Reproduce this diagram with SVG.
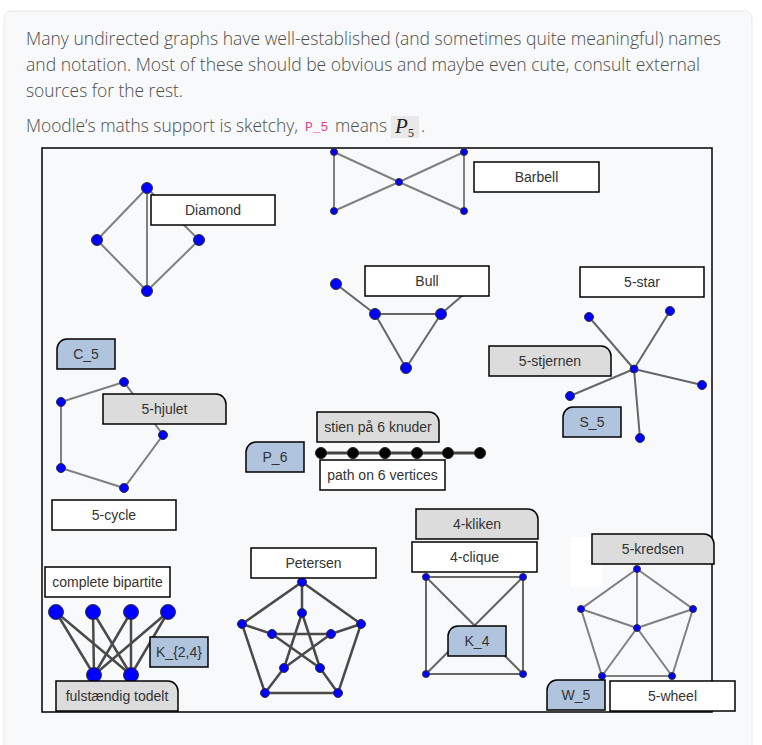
<svg xmlns="http://www.w3.org/2000/svg" width="762" height="745" viewBox="0 0 762 745">
<style>
.intro{font-family:"Open Sans","Noto Sans",sans-serif;font-size:18px;font-weight:300;fill:#4d4d4d}
.code{font-family:"Liberation Mono","DejaVu Sans Mono",monospace;font-size:13px;fill:#e83e8c}
.lbl{font-family:"Liberation Sans",Arial,sans-serif;font-size:14px;fill:#333;text-anchor:middle}
.wb{fill:#fff;stroke:#000;stroke-width:1.5}
.gb{fill:#dcdcdc;stroke:#000;stroke-width:1.5}
.bb{fill:#b0c4de;stroke:#000;stroke-width:1.5}
.v{fill:#0000ff;stroke:#333;stroke-width:1}
.vk{fill:#000;stroke:#222;stroke-width:1}
.el{stroke:#808080;stroke-width:2;fill:none}
.em{stroke:#666;stroke-width:2;fill:none}
.ed{stroke:#4a4a4a;stroke-width:2.5;fill:none}
.ep{stroke:#444;stroke-width:3;fill:none}
</style>
<rect x="0" y="0" width="762" height="745" fill="#fff"/>
<rect x="4" y="11" width="748" height="760" rx="7" fill="#f8f9fa" stroke="#e6e8ea" stroke-width="1"/>
<text class="intro" x="26" y="45" textLength="695" lengthAdjust="spacingAndGlyphs">Many undirected graphs have well-established (and sometimes quite meaningful) names</text>
<text class="intro" x="26" y="71" textLength="674" lengthAdjust="spacingAndGlyphs">and notation. Most of these should be obvious and maybe even cute, consult external</text>
<text class="intro" x="26" y="97" textLength="157" lengthAdjust="spacingAndGlyphs">sources for the rest.</text>
<text class="intro" x="26" y="132" textLength="272" lengthAdjust="spacingAndGlyphs">Moodle’s maths support is sketchy,</text>
<text class="code" x="305" y="131">P_5</text>
<text class="intro" x="335" y="132" textLength="52" lengthAdjust="spacingAndGlyphs">means</text>
<rect x="391" y="116" width="28" height="22" fill="#e9e9e9"/>
<text x="395" y="133" font-family="Liberation Serif,serif" font-style="italic" font-size="21" fill="#222">P</text>
<text x="408" y="137" font-family="Liberation Serif,serif" font-size="12" fill="#222">5</text>
<text class="intro" x="421" y="132">.</text>

<rect id="frame" x="42" y="148" width="670" height="564" fill="#f8f9fa" stroke="#000" stroke-width="1.5"/>
<rect id="patch" x="570" y="537" width="33" height="50" fill="#fff"/>

<g id="connectors">
<g class="el">
<line x1="147" y1="188" x2="97" y2="240"/><line x1="97" y1="240" x2="147" y2="291"/>
<line x1="147" y1="188" x2="147" y2="291"/><line x1="147" y1="291" x2="199" y2="240"/>
<line x1="199" y1="240" x2="147" y2="188"/>
</g>
<g class="el">
<line x1="334" y1="152" x2="334" y2="211"/><line x1="334" y1="152" x2="399" y2="182"/>
<line x1="334" y1="211" x2="399" y2="182"/><line x1="399" y1="182" x2="464" y2="152"/>
<line x1="399" y1="182" x2="464" y2="211"/><line x1="464" y1="152" x2="464" y2="211"/>
</g>
<g class="em">
<line x1="336" y1="284" x2="375" y2="314"/><line x1="375" y1="314" x2="441" y2="314"/>
<line x1="375" y1="314" x2="406" y2="368"/><line x1="441" y1="314" x2="406" y2="368"/>
<line x1="441" y1="314" x2="478" y2="282"/>
</g>
<g class="em">
<line x1="634" y1="369" x2="589" y2="317"/><line x1="634" y1="369" x2="670" y2="311"/>
<line x1="634" y1="369" x2="702" y2="385"/><line x1="634" y1="369" x2="570" y2="396"/>
<line x1="634" y1="369" x2="640" y2="438"/>
</g>
<polygon class="el" points="124,382 61,402 61,468 124,488 163,435"/>
<line class="ep" x1="321" y1="453" x2="480" y2="453"/>
<g class="ed">
<line x1="56" y1="612" x2="94" y2="675"/><line x1="56" y1="612" x2="131" y2="675"/>
<line x1="93" y1="612" x2="94" y2="675"/><line x1="93" y1="612" x2="131" y2="675"/>
<line x1="131" y1="612" x2="94" y2="675"/><line x1="131" y1="612" x2="131" y2="675"/>
<line x1="168" y1="612" x2="94" y2="675"/><line x1="168" y1="612" x2="131" y2="675"/>
</g>
<g class="ed">
<polygon points="302,582 361,624 338,693 265,693 242,624"/>
<line x1="302" y1="582" x2="302" y2="613"/><line x1="242" y1="624" x2="272" y2="634"/>
<line x1="361" y1="624" x2="331" y2="634"/><line x1="265" y1="693" x2="284" y2="668"/>
<line x1="338" y1="693" x2="320" y2="668"/>
<line x1="302" y1="613" x2="284" y2="668"/><line x1="302" y1="613" x2="320" y2="668"/>
<line x1="272" y1="634" x2="331" y2="634"/><line x1="272" y1="634" x2="320" y2="668"/>
<line x1="331" y1="634" x2="284" y2="668"/>
</g>
<g class="em">
<rect x="426" y="577" width="97" height="97"/>
<line x1="426" y1="577" x2="523" y2="674"/><line x1="523" y1="577" x2="426" y2="674"/>
</g>
<g class="el">
<polygon points="637,569 693,609 672,676 602,676 581,609"/>
<line x1="637" y1="628" x2="637" y2="569"/><line x1="637" y1="628" x2="693" y2="609"/>
<line x1="637" y1="628" x2="672" y2="676"/><line x1="637" y1="628" x2="602" y2="676"/>
<line x1="637" y1="628" x2="581" y2="609"/>
</g>
</g>

<g id="diamond-vertices">
<circle class="v" cx="147" cy="188" r="5.5"/><circle class="v" cx="97" cy="240" r="5.5"/>
<circle class="v" cx="199" cy="240" r="5.5"/><circle class="v" cx="147" cy="291" r="5.5"/>
</g>
<g id="barbell-vertices">
<circle class="v" cx="334" cy="152" r="3.5"/><circle class="v" cx="334" cy="211" r="3.5"/>
<circle class="v" cx="399" cy="182" r="3.5"/><circle class="v" cx="464" cy="152" r="3.5"/>
<circle class="v" cx="464" cy="211" r="3.5"/>
</g>
<g id="bull-vertices">
<circle class="v" cx="336" cy="284" r="5.5"/><circle class="v" cx="375" cy="314" r="5.5"/>
<circle class="v" cx="441" cy="314" r="5.5"/><circle class="v" cx="406" cy="368" r="5.5"/>
</g>
<g id="star-vertices">
<circle class="v" cx="634" cy="369" r="4"/><circle class="v" cx="589" cy="317" r="4.5"/>
<circle class="v" cx="670" cy="311" r="4.5"/><circle class="v" cx="702" cy="385" r="4.5"/>
<circle class="v" cx="570" cy="396" r="4.5"/><circle class="v" cx="640" cy="438" r="4.5"/>
</g>
<g id="c5-vertices">
<circle class="v" cx="124" cy="382" r="4.5"/><circle class="v" cx="61" cy="402" r="4.5"/>
<circle class="v" cx="61" cy="468" r="4.5"/><circle class="v" cx="124" cy="488" r="4.5"/>
<circle class="v" cx="163" cy="435" r="4.5"/>
</g>
<g id="path-vertices">
<circle class="vk" cx="321" cy="453" r="5.5"/><circle class="vk" cx="353" cy="453" r="5.5"/>
<circle class="vk" cx="385" cy="453" r="5.5"/><circle class="vk" cx="417" cy="453" r="5.5"/>
<circle class="vk" cx="448" cy="453" r="5.5"/><circle class="vk" cx="480" cy="453" r="5.5"/>
</g>
<g id="bipartite-vertices">
<circle class="v" cx="56" cy="612" r="7.5"/><circle class="v" cx="93" cy="612" r="7.5"/>
<circle class="v" cx="131" cy="612" r="7.5"/><circle class="v" cx="168" cy="612" r="7.5"/>
<circle class="v" cx="94" cy="675" r="7.5"/><circle class="v" cx="131" cy="675" r="7.5"/>
</g>
<g id="petersen-vertices">
<circle class="v" cx="302" cy="582" r="4.5"/><circle class="v" cx="361" cy="624" r="4.5"/>
<circle class="v" cx="338" cy="693" r="4.5"/><circle class="v" cx="265" cy="693" r="4.5"/>
<circle class="v" cx="242" cy="624" r="4.5"/>
<circle class="v" cx="302" cy="613" r="4.5"/><circle class="v" cx="331" cy="634" r="4.5"/>
<circle class="v" cx="320" cy="668" r="4.5"/><circle class="v" cx="284" cy="668" r="4.5"/>
<circle class="v" cx="272" cy="634" r="4.5"/>
</g>
<g id="k4-vertices">
<circle class="v" cx="426" cy="577" r="3.5"/><circle class="v" cx="523" cy="577" r="3.5"/>
<circle class="v" cx="426" cy="674" r="3.5"/><circle class="v" cx="523" cy="674" r="3.5"/>
</g>
<g id="w5-vertices">
<circle class="v" cx="637" cy="569" r="3.5"/><circle class="v" cx="693" cy="609" r="3.5"/>
<circle class="v" cx="672" cy="676" r="3.5"/><circle class="v" cx="602" cy="676" r="3.5"/>
<circle class="v" cx="581" cy="609" r="3.5"/><circle class="v" cx="637" cy="628" r="3.5"/>
</g>

<g id="label-diamond"><rect class="wb" x="151" y="195" width="124" height="30"/><text class="lbl" x="213" y="215">Diamond</text></g>
<g id="label-barbell"><rect class="wb" x="474" y="162" width="125" height="30"/><text class="lbl" x="536.5" y="182">Barbell</text></g>
<g id="label-bull"><rect class="wb" x="365" y="266" width="124" height="30"/><text class="lbl" x="427" y="286">Bull</text></g>
<g id="label-5star"><rect class="wb" x="580" y="267" width="124" height="30"/><text class="lbl" x="642" y="287">5-star</text></g>
<g id="label-5stjernen"><path class="gb" d="M489,346 H601 A10,10 0 0 1 611,356 V376 H489 Z"/><text class="lbl" x="550" y="366">5-stjernen</text></g>
<g id="label-S5"><path class="bb" d="M573,407 H621 V437 H563 V417 A10,10 0 0 1 573,407 Z"/><text class="lbl" x="592" y="427">S_5</text></g>
<g id="label-C5"><path class="bb" d="M67,339 H115 V369 H57 V349 A10,10 0 0 1 67,339 Z"/><text class="lbl" x="86" y="359">C_5</text></g>
<g id="label-5hjulet"><path class="gb" d="M103,394 H216 A10,10 0 0 1 226,404 V424 H103 Z"/><text class="lbl" x="164.5" y="414">5-hjulet</text></g>
<g id="label-5cycle"><rect class="wb" x="52" y="500" width="124" height="30"/><text class="lbl" x="114" y="520">5-cycle</text></g>
<g id="label-stien"><path class="gb" d="M317,412 H429 A10,10 0 0 1 439,422 V442 H317 Z"/><text class="lbl" x="378" y="432">stien på 6 knuder</text></g>
<g id="label-P6"><path class="bb" d="M256,442 H304 V472 H246 V452 A10,10 0 0 1 256,442 Z"/><text class="lbl" x="275" y="462">P_6</text></g>
<g id="label-path"><rect class="wb" x="320" y="460" width="125" height="30"/><text class="lbl" x="382.5" y="480">path on 6 vertices</text></g>
<g id="label-bipartite"><rect class="wb" x="45" y="567" width="125" height="30"/><text class="lbl" x="107.5" y="587">complete bipartite</text></g>
<g id="label-K24"><rect class="bb" x="150" y="637" width="58" height="30"/><text class="lbl" x="179" y="657">K_{2,4}</text></g>
<g id="label-todelt"><path class="gb" d="M56,681 H168 A10,10 0 0 1 178,691 V711 H56 Z"/><text class="lbl" x="117" y="701">fulstændig todelt</text></g>
<g id="label-petersen"><rect class="wb" x="251" y="548" width="125" height="30"/><text class="lbl" x="313.5" y="568">Petersen</text></g>
<g id="label-4kliken"><path class="gb" d="M416,509 H528 A10,10 0 0 1 538,519 V539 H416 Z"/><text class="lbl" x="477" y="529">4-kliken</text></g>
<g id="label-4clique"><rect class="wb" x="412" y="542" width="125" height="30"/><text class="lbl" x="474.5" y="562">4-clique</text></g>
<g id="label-K4"><path class="bb" d="M458,626 H506 V656 H448 V636 A10,10 0 0 1 458,626 Z"/><text class="lbl" x="477" y="646">K_4</text></g>
<g id="label-5kredsen"><path class="gb" d="M592,534 H704 A10,10 0 0 1 714,544 V564 H592 Z"/><text class="lbl" x="653" y="554">5-kredsen</text></g>
<g id="label-W5"><path class="bb" d="M557,680 H605 V710 H547 V690 A10,10 0 0 1 557,680 Z"/><text class="lbl" x="576" y="700">W_5</text></g>
<g id="label-5wheel"><rect class="wb" x="610" y="681" width="125" height="30"/><text class="lbl" x="672.5" y="701">5-wheel</text></g>
</svg>
